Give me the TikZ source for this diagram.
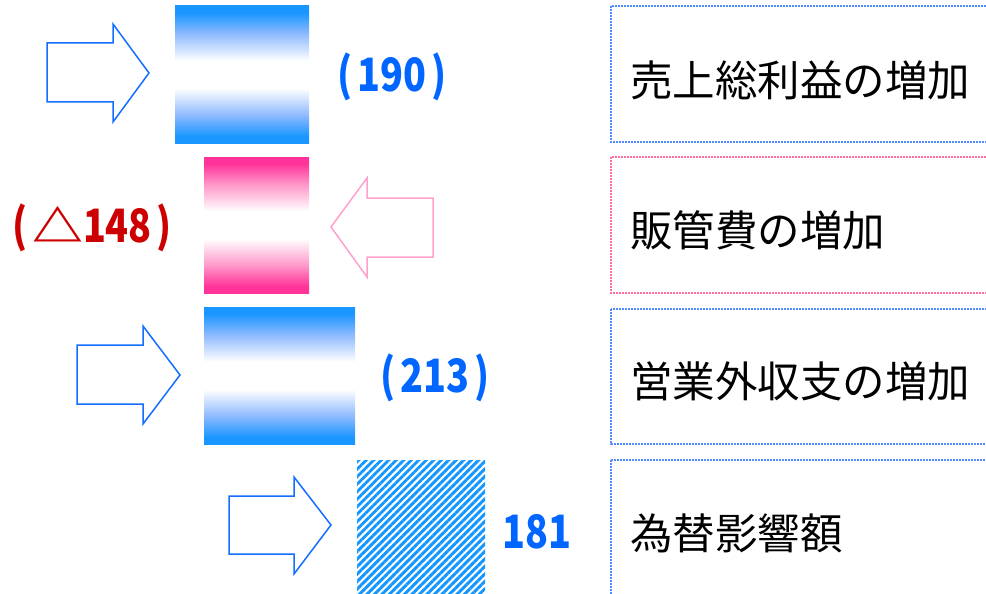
\documentclass[tikz,border=0pt]{standalone}
\usepackage{fontspec}
\setmainfont{Noto Sans CJK JP}
\usetikzlibrary{patterns.meta}
\definecolor{barblue}{RGB}{25,150,255}
\definecolor{midblue}{RGB}{140,185,255}
\definecolor{barpink}{RGB}{255,51,153}
\definecolor{midpink}{RGB}{255,150,200}
\definecolor{arrblue}{RGB}{20,110,255}
\definecolor{arrpink}{RGB}{255,160,205}
\definecolor{numblue}{RGB}{0,102,255}
\definecolor{numred}{RGB}{204,0,0}
\definecolor{boxblue}{RGB}{80,140,255}
\definecolor{boxpink}{RGB}{255,110,160}
\definecolor{hatchblue}{RGB}{20,150,255}
\pgfdeclareverticalshading{shblue}{100bp}{color(0bp)=(barblue); color(27.5bp)=(barblue); color(35bp)=(midblue); color(45bp)=(white); color(55bp)=(white); color(65bp)=(midblue); color(72.5bp)=(barblue); color(100bp)=(barblue)}
\pgfdeclareverticalshading{shpink}{100bp}{color(0bp)=(barpink); color(27.5bp)=(barpink); color(35bp)=(midpink); color(45bp)=(white); color(55bp)=(white); color(65bp)=(midpink); color(72.5bp)=(barpink); color(100bp)=(barpink)}
\tikzset{
  bluebar/.style={shading=shblue},
  pinkbar/.style={shading=shpink},
  hatchbar/.style={pattern={Lines[angle=45,distance=5.3pt,line width=2.9pt]},pattern color=hatchblue},
  blockarrow/.style={draw=arrblue,line width=1.5pt,fill=white,line join=miter},
  pinkarrow/.style={draw=arrpink,line width=1.5pt,fill=white,line join=miter},
  labelbox/.style={line width=1.6pt,dash pattern=on 1.6pt off 1.4pt},
  label/.style={anchor=west,font=\fontsize{42.5}{46}\selectfont,text=black,inner sep=0pt},
  num/.style={font=\bfseries\fontsize{46}{50}\selectfont,inner sep=0pt,xscale=0.82},
}
\newcommand{\gp}{\hspace{6pt}}
\begin{document}
\begin{tikzpicture}[x=1pt,y=-1pt]
\useasboundingbox (0,0) rectangle (986,594);
\clip (0,0) rectangle (986,594);
% label boxes
\draw[labelbox,draw=boxblue] (611,6) rectangle (1000,142);
\draw[labelbox,draw=boxpink] (611,157) rectangle (1000,293);
\draw[labelbox,draw=boxblue] (611,309) rectangle (1000,444);
\draw[labelbox,draw=boxblue] (611,460) rectangle (1000,600);
\node[label] (t1) at (630,80) {売上総利益の増加};
\node[label] (t2) at (630,230) {販管費の増加};
\node[label] (t3) at (630,381) {営業外収支の増加};
\node[label] (t4) at (630,533) {為替影響額};
% bars
\path[bluebar] (175,6) rectangle (309,143);
\path[pinkbar] (204,157) rectangle (309,293);
\path[bluebar] (204,307) rectangle (355,444);
\path[hatchbar] (357,460) rectangle (485,594);
% arrows
\draw[blockarrow] (47,43) -- (113,43) -- (113,24) -- (149,73) -- (113,122) -- (113,102) -- (47,102) -- cycle;
\draw[pinkarrow] (433,198) -- (367,198) -- (367,178) -- (331,227) -- (367,277) -- (367,257) -- (433,257) -- cycle;
\draw[blockarrow] (77,345) -- (143,345) -- (143,326) -- (180,375) -- (143,424) -- (143,404) -- (77,404) -- cycle;
\draw[blockarrow] (229,496) -- (294,496) -- (294,477) -- (331,525) -- (294,574) -- (294,554) -- (229,554) -- cycle;
% numbers
\node[num,text=numblue] (n1) at (392,77) {(\gp190\gp)};
\node[num,text=numred] (n2) at (92,228) {(\gp\scalebox{1.35}[0.95]{△}148\gp)};
\node[num,text=numblue] (n3) at (435,378) {(\gp213\gp)};
\node[num,text=numblue] (n4) at (537,532) {181};
\end{tikzpicture}
\end{document}
